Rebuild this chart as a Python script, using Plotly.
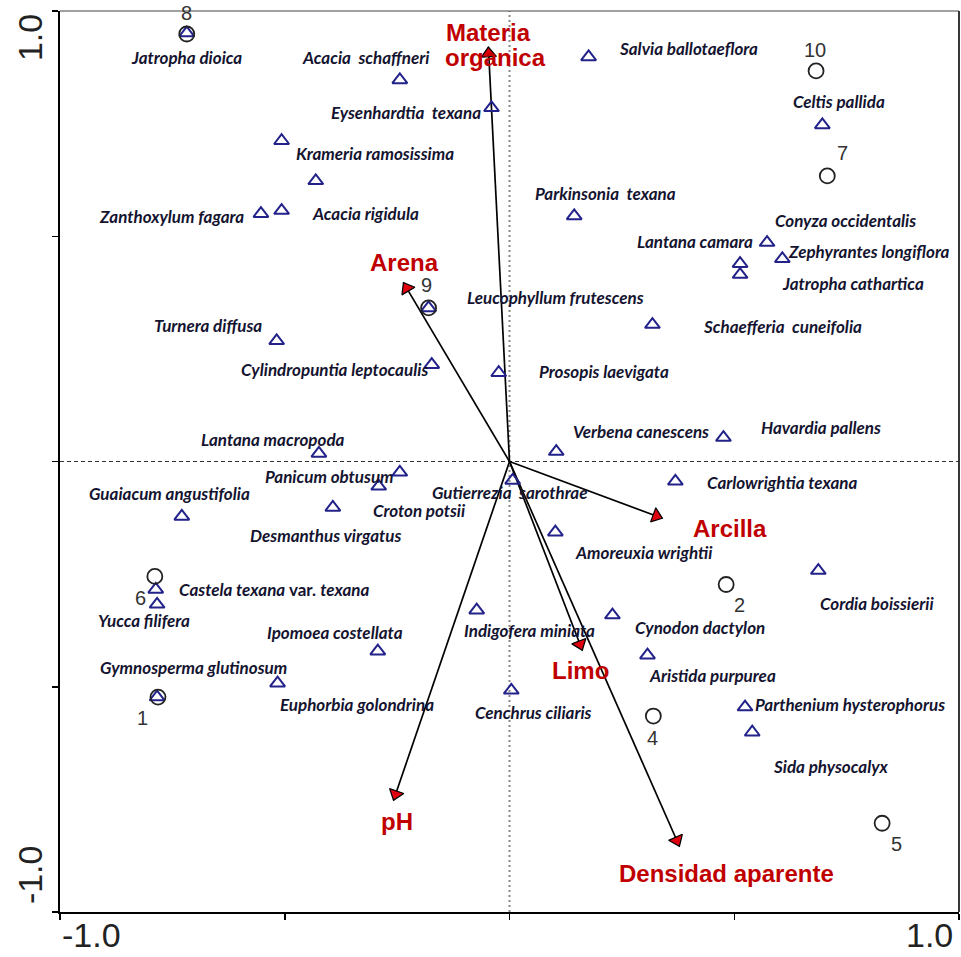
import math
import plotly.graph_objects as go

# ---------------- data ----------------
# species scores (triangles)
sp_x = [-0.718, -0.244, -0.040, 0.176, -0.507, -0.431, -0.553, -0.507, 0.696, 0.144,
        0.573, 0.607, 0.513, 0.513, -0.180, 0.318, -0.518, -0.173, -0.024, 0.104,
        0.476, -0.424, -0.244, -0.291, -0.393, -0.729, 0.007, 0.369, 0.102, 0.687,
        -0.787, -0.784, -0.073, 0.229, -0.293, 0.307, -0.516, -0.784, 0.004, 0.524, 0.540]
sp_y = [0.951, 0.847, 0.785, 0.898, 0.712, 0.623, 0.550, 0.557, 0.747, 0.545,
        0.486, 0.450, 0.439, 0.415, 0.341, 0.304, 0.268, 0.215, 0.197, 0.022,
        0.053, 0.018, -0.024, -0.055, -0.102, -0.122, -0.042, -0.044, -0.157, -0.242,
        -0.284, -0.317, -0.330, -0.341, -0.421, -0.430, -0.492, -0.523, -0.508, -0.545, -0.601]

# species names and where their labels sit
sp_names = ["Jatropha dioica", "Acacia\u00a0 schaffneri", "Eysenhardtia\u00a0 texana",
            "Salvia ballotaeflora", "Krameria ramosissima", "Acacia rigidula",
            "Zanthoxylum fagara", "Celtis pallida", "Parkinsonia\u00a0 texana",
            "Conyza occidentalis", "Lantana camara", "Zephyrantes longiflora",
            "Jatropha cathartica", "Leucophyllum frutescens", "Schaefferia\u00a0 cuneifolia",
            "Turnera diffusa", "Cylindropuntia leptocaulis", "Prosopis laevigata",
            "Verbena canescens", "Havardia pallens", "Lantana macropoda", "Panicum obtusum",
            "Croton potsii", "Desmanthus virgatus", "Guaiacum angustifolia",
            "Gutierrezia\u00a0 sarothrae", "Carlowrightia texana", "Amoreuxia wrightii",
            "Cordia boissierii", "<i>Castela texana</i> var. <i>texana</i>", "Yucca filifera",
            "Indigofera miniata", "Cynodon dactylon", "Ipomoea costellata",
            "Aristida purpurea", "Gymnosperma glutinosum", "Euphorbia golondrina",
            "Cenchrus ciliaris", "Parthenium hysterophorus", "Sida physocalyx"]
lab_x = [-0.718, -0.320, -0.231, 0.398, -0.300, -0.320, -0.751, 0.733, 0.213, 0.747,
         0.413, 0.800, 0.764, 0.102, 0.607, -0.671, -0.389, 0.211, 0.293, 0.693,
         -0.527, -0.400, -0.200, -0.409, -0.756, 0.002, 0.607, 0.300, 0.818, -0.522,
         -0.813, 0.044, 0.424, -0.389, 0.451, -0.704, -0.340, 0.053, 0.758, 0.716]
lab_y = [0.896, 0.896, 0.774, 0.916, 0.683, 0.550, 0.543, 0.800, 0.596, 0.534,
         0.488, 0.466, 0.395, 0.364, 0.299, 0.302, 0.204, 0.200, 0.067, 0.075,
         0.049, -0.033, -0.109, -0.164, -0.071, -0.068, -0.047, -0.202, -0.315, -0.284,
         -0.353, -0.375, -0.368, -0.379, -0.474, -0.457, -0.539, -0.557, -0.539, -0.676]

# site scores (circles)
site_ids = ["8", "10", "7", "9", "2", "6", "1", "4", "5"]
site_x = [-0.718, 0.682, 0.707, -0.180, 0.482, -0.789, -0.782, 0.320, 0.829]
site_y = [0.949, 0.867, 0.634, 0.341, -0.273, -0.255, -0.523, -0.565, -0.803]
site_lab_x = [-0.718, 0.680, 0.740, -0.184, 0.511, -0.822, -0.816, 0.318, 0.860]
site_lab_y = [0.995, 0.914, 0.685, 0.392, -0.319, -0.304, -0.570, -0.614, -0.849]

# environmental variables (arrows)
env_names = ["Materia<br>organica", "Arena", "Arcilla", "Limo", "Densidad aparente", "pH"]
env_x = [-0.047, -0.236, 0.340, 0.162, 0.378, -0.258]
env_y = [0.920, 0.397, -0.126, -0.419, -0.854, -0.752]
env_lab_x = [-0.040, -0.233, 0.491, 0.158, 0.482, -0.251]
env_lab_y = [0.925, 0.441, -0.149, -0.463, -0.914, -0.800]

# axis end labels
axis_min, axis_max = -1.0, 1.0
tick_vals = [-1.0, -0.5, 0.0, 0.5, 1.0]

# ---------------- figure ----------------
W, H = 961, 957
ML, MR, MT, MB = 60, 2, 11, 45
px_per_x = (W - ML - MR) / (axis_max - axis_min)
px_per_y = (H - MT - MB) / (axis_max - axis_min)

fig = go.Figure()

# arrows (lines)
lx, ly = [], []
for ex, ey in zip(env_x, env_y):
    lx += [0, ex, None]
    ly += [0, ey, None]
fig.add_trace(go.Scatter(x=lx, y=ly, mode="lines",
                         line=dict(color="black", width=1.7),
                         hoverinfo="skip", showlegend=False))

# arrowheads
head_size = 13
hx, hy, ang = [], [], []
for ex, ey in zip(env_x, env_y):
    sx, sy = ex * px_per_x, ey * px_per_y
    L = math.hypot(sx, sy)
    back = head_size / 2.0
    hx.append(ex - (sx / L) * back / px_per_x)
    hy.append(ey - (sy / L) * back / px_per_y)
    ang.append(math.degrees(math.atan2(sx, sy)))
fig.add_trace(go.Scatter(x=hx, y=hy, mode="markers",
                         marker=dict(symbol="triangle-up", size=head_size, angle=ang,
                                     color="#e00010", line=dict(color="black", width=1.2)),
                         hoverinfo="skip", showlegend=False, cliponaxis=False))

# species
fig.add_trace(go.Scatter(x=sp_x, y=sp_y, mode="markers",
                         marker=dict(symbol="triangle-up-open", size=13,
                                     color="#22228a", line=dict(width=2, color="#22228a")),
                         hoverinfo="skip", showlegend=False))

# sites
fig.add_trace(go.Scatter(x=site_x, y=site_y, mode="markers",
                         marker=dict(symbol="circle-open", size=15,
                                     color="#222222", line=dict(width=1.8, color="#222222")),
                         hoverinfo="skip", showlegend=False, cliponaxis=False))

ann = []
for name, x, y in zip(sp_names, lab_x, lab_y):
    style = "normal" if "<i>" in name else "italic"
    ann.append(dict(x=x, y=y, text=name, showarrow=False, xanchor="center", yanchor="middle",
                    font=dict(family="Lato, Open Sans, sans-serif", size=17, color="#141430",
                              weight="bold", style=style)))
for t, x, y in zip(site_ids, site_lab_x, site_lab_y):
    ann.append(dict(x=x, y=y, text=t, showarrow=False, xanchor="center", yanchor="middle",
                    font=dict(family="Liberation Sans, Arial, sans-serif", size=20, color="#333333")))
env_font = dict(family="Liberation Sans, Arial, sans-serif", size=24, color="#c00000", weight="bold")
line_gap = 25  # px between lines of a two-line label
for t, x, y in zip(env_names, env_lab_x, env_lab_y):
    parts = t.split("<br>")
    n = len(parts)
    for i, p in enumerate(parts):
        shift = ((n - 1) / 2.0 - i) * line_gap
        ann.append(dict(x=x, y=y, text=p, showarrow=False, xanchor="center", yanchor="middle",
                        yshift=shift, xshift=(i - (n - 1) / 2.0) * 7, font=env_font))

tickfont = dict(family="Liberation Sans, Arial, sans-serif", size=34, color="#222222")
ann += [
    dict(x=axis_min, y=0, xref="x", yref="paper", text="-1.0", showarrow=False,
         xanchor="left", yanchor="top", yshift=-2, font=tickfont),
    dict(x=axis_max, y=0, xref="x", yref="paper", text="1.0", showarrow=False,
         xanchor="right", yanchor="top", yshift=-2, xshift=-4, font=tickfont),
    dict(x=-0.0333, y=0.940, xref="paper", yref="y", text="1.0", showarrow=False,
         textangle=-90, xanchor="center", yanchor="middle", font=tickfont),
    dict(x=-0.0333, y=-0.918, xref="paper", yref="y", text="-1.0", showarrow=False,
         textangle=-90, xanchor="center", yanchor="middle", font=tickfont),
]

shapes = [
    dict(type="line", xref="x", yref="y", x0=axis_min, x1=axis_max, y0=0, y1=0,
         line=dict(color="#333333", width=1.2, dash="4px,3px"), layer="below"),
    dict(type="line", xref="x", yref="y", x0=0, x1=0, y0=axis_min, y1=axis_max,
         line=dict(color="#888888", width=2, dash="2px,3px"), layer="below"),
    dict(type="line", xref="paper", yref="paper", x0=0, x1=1, y0=1, y1=1,
         line=dict(color="#444444", width=1.2)),
    dict(type="line", xref="paper", yref="paper", x0=1, x1=1, y0=0, y1=1,
         line=dict(color="#222222", width=1.8)),
]

fig.update_layout(
    width=W, height=H,
    margin=dict(l=ML, r=MR, t=MT, b=MB),
    paper_bgcolor="white", plot_bgcolor="white",
    showlegend=False,
    annotations=ann, shapes=shapes,
    xaxis=dict(range=[axis_min, axis_max], showgrid=False, zeroline=False,
               showline=True, linecolor="black", linewidth=2,
               ticks="outside", ticklen=6, tickwidth=1.5, tickcolor="black",
               tickvals=tick_vals, showticklabels=False, fixedrange=True),
    yaxis=dict(range=[axis_min, axis_max], showgrid=False, zeroline=False,
               showline=True, linecolor="black", linewidth=2,
               ticks="outside", ticklen=6, tickwidth=1.5, tickcolor="black",
               tickvals=tick_vals, showticklabels=False, fixedrange=True),
)

fig.write_html("out.html",
               config={"displayModeBar": False, "staticPlot": True},
               post_script="document.body.style.margin='0';document.body.style.overflow='hidden';")
